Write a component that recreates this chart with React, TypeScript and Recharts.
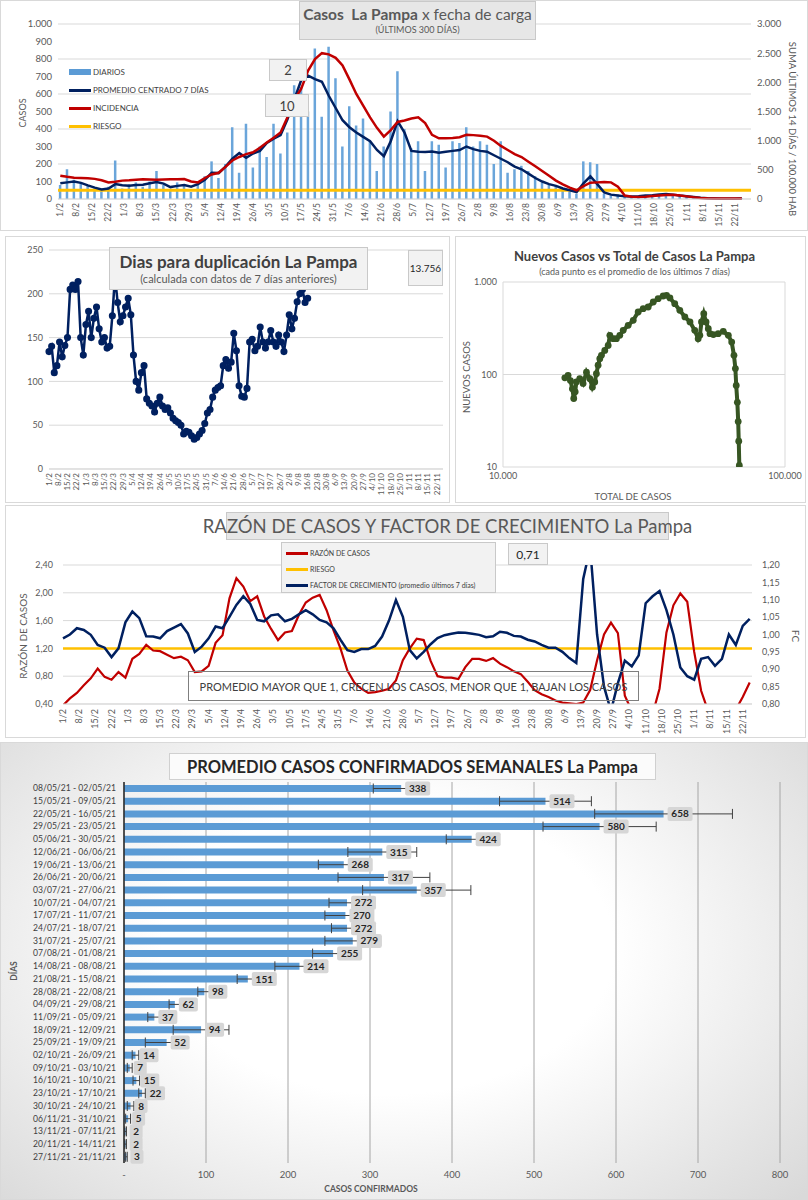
import React from "react";
import {
  ComposedChart,
  LineChart,
  ScatterChart,
  BarChart,
  Bar,
  Line,
  Scatter,
  XAxis,
  YAxis,
  CartesianGrid,
  ReferenceLine,
  ErrorBar,
  LabelList,
} from "recharts";

const FONT = 'Lato, "Open Sans", sans-serif';
const GRID = "#d9d9d9";
const TICK = "#595959";
const NAVY = "#002060";
const RED = "#c00000";
const GOLD = "#ffc000";
const BLUE = "#5b9bd5";
const GREEN = "#375623";

// weekly date ticks, day 0 = 1/2/2021
const WEEK_TICKS = Array.from({ length: 43 }, (_, i) => i * 7);

// ---- casos diarios (one sample every 3 days) ----
const TOP_STEP = 3;
const DIARIOS = [
  80, 170, 110, 90, 75, 60, 45, 70, 220, 60,
  85, 95, 70, 100, 160, 80, 50, 95, 85, 40,
  90, 130, 215, 120, 200, 410, 150, 430, 180, 300,
  240, 430, 260, 380, 650, 640, 500, 860, 470, 870,
  690, 300, 530, 420, 460, 330, 160, 300, 500, 730,
  400, 290, 330, 160, 330, 310, 180, 330, 320, 410,
  300, 330, 310, 200, 330, 150, 170, 190, 160, 130,
  95, 80, 75, 60, 40, 30, 215, 210, 200, 30,
  20, 25, 12, 10, 15, 20, 18, 28, 30, 25,
  18, 15, 10, 6, 4, 3, 2, 2, 2, 3,
];
const PROMEDIO = [
  90, 95, 100, 92, 78, 65, 55, 60, 85, 78,
  76, 80, 82, 90, 97, 88, 68, 75, 80, 70,
  85, 110, 150, 148, 185, 230, 262, 235, 260, 275,
  320, 345, 365, 455, 570, 680, 705, 685, 670, 590,
  520, 450, 410, 380, 355, 330, 280, 245, 330, 445,
  380, 275, 270, 268, 272, 265, 270, 275, 280, 300,
  285, 275, 270, 250, 230, 210, 185, 170, 145, 120,
  100, 85, 75, 60, 50, 40, 90, 130, 85, 38,
  25, 20, 15, 14, 16, 20, 22, 26, 29, 25,
  20, 16, 12, 7, 4, 3, 2, 2, 2, 3,
];
const INCIDENCIA = [
  400, 380, 365, 360, 355, 345, 320, 285, 295, 315,
  320, 330, 340, 335, 330, 335, 340, 340, 343, 300,
  285, 360, 420, 450, 550, 660, 720, 770, 800, 880,
  970, 1050, 1140, 1400, 1700, 1890, 2200, 2400, 2500, 2480,
  2420, 2290, 2050, 1800, 1600, 1400, 1220, 1070, 1180, 1320,
  1345, 1380, 1400, 1300, 1100, 1040, 1040, 1045, 1060, 1100,
  1095, 1085, 1070, 1000, 910, 840, 770, 720, 640, 560,
  480, 400, 315, 250, 195, 150, 220, 280, 285, 290,
  285, 210, 60, 40, 35, 40, 50, 60, 68, 72,
  60, 45, 30, 18, 12, 10, 8, 8, 8, 8,
];
const RIESGO_INC = 150;

// ---- dias para duplicacion (one sample every 2 days) ----
const DUP_STEP = 2;
const DUPLICACION = [
  134, 140, 110, 118, 145, 128, 141, 150, 205, 210,
  205, 214, 150, 130, 165, 180, 150, 172, 185, 160,
  145, 150, 138, 140, 175, 220, 190, 168, 175, 185,
  195, 176, 130, 100, 90, 110, 118, 80, 75, 72,
  65, 75, 82, 72, 68, 70, 64, 58, 55, 53,
  50, 40, 43, 42, 38, 34, 36, 40, 44, 52,
  64, 68, 82, 90, 93, 95, 118, 125, 115, 122,
  155, 135, 95, 83, 82, 92, 145, 148, 135, 140,
  162, 145, 138, 145, 158, 145, 140, 153, 145, 134,
  153, 176, 160, 172, 191, 200, 205, 190, 195,
];

// ---- nuevos casos vs total ----
const TOTAL_CASOS = [
  16570, 17010, 17340, 17620, 17820, 18030, 18200, 18710, 19230, 19770,
  20320, 20750, 21150, 21440, 21740, 22040, 22340, 22960, 23600, 23930,
  24600, 25240, 25950, 26680, 27790, 28960, 30150, 31420, 32720, 34110,
  35490, 36980, 38020, 39080, 40650, 42370, 44150, 46030, 47860, 49210,
  49900, 50570, 51520, 52480, 53460, 54200, 55720, 57940, 60400, 62950,
  64710, 65920, 66690, 67150, 67770, 68240, 68550, 68870,
];
const NUEVOS_CASOS = [
  92, 98, 86, 70, 55, 65, 83, 90, 80, 106,
  90, 73, 83, 102, 126, 148, 161, 182, 206, 265,
  244, 244, 265, 300, 340, 385, 474, 515, 537, 608,
  661, 706, 718, 672, 583, 494, 419, 370, 300, 244,
  265, 370, 455, 370, 313, 276, 270, 276, 293, 265,
  224, 161, 116, 76, 50, 31, 19, 10.4,
];

// ---- razon de casos y factor de crecimiento (every 3 days) ----
const RAZON = [
  0.38, 0.48, 0.56, 0.67, 0.77, 0.91, 0.79, 0.75, 0.86, 0.78,
  1.05, 1.12, 1.25, 1.17, 1.16, 1.11, 1.06, 1.08, 1.03, 0.86,
  0.87, 0.95, 1.28, 1.39, 1.92, 2.21, 2.09, 1.88, 1.95, 1.66,
  1.48, 1.32, 1.43, 1.45, 1.68, 1.86, 1.93, 1.97, 1.75, 1.46,
  1.2, 0.88, 0.71, 0.62, 0.56, 0.57, 0.59, 0.62, 0.74, 1.03,
  1.2, 1.34, 1.32, 1.02, 0.8, 0.78, 0.78, 0.76, 0.93, 1.05,
  1.05, 1.02, 1.06, 0.98, 0.93, 0.87, 0.83, 0.72, 0.6, 0.54,
  0.5, 0.45, 0.42, 0.41, 0.4, 0.42, 0.6, 1.03, 1.4, 1.57,
  1.42, 0.52, 0.3, 0.2, 0.15, 0.25, 0.62, 1.43, 1.82, 1.99,
  1.87, 1.15, 0.59, 0.3, 0.2, 0.15, 0.2, 0.32, 0.5, 0.71,
];
const FACTOR = [
  0.989, 1.0, 1.018, 1.013, 0.999, 0.97, 0.962, 0.935, 0.96, 1.035,
  1.066, 1.047, 0.995, 0.994, 0.989, 1.01, 1.02, 1.03, 1.003, 0.95,
  0.965, 0.989, 1.023, 1.018, 1.051, 1.085, 1.11, 1.088, 1.042, 1.038,
  1.055, 1.058, 1.038, 1.045, 1.058, 1.07, 1.058, 1.042, 1.035, 1.018,
  0.985, 0.955, 0.95, 0.958, 0.958, 0.967, 0.994, 1.04, 1.099, 1.051,
  0.955, 0.931, 0.95, 0.972, 0.99, 0.998, 1.002, 1.006, 1.005, 1.002,
  0.999, 0.992, 0.995, 1.008, 1.005, 0.996, 0.994, 0.985, 0.98, 0.97,
  0.962, 0.962, 0.95, 0.932, 0.918, 1.16, 1.25, 1.0, 0.85, 0.78,
  0.86, 0.925, 0.908, 0.94, 1.09, 1.11, 1.125, 1.07, 1.0, 0.905,
  0.88, 0.87, 0.93, 0.935, 0.91, 0.93, 1.0, 0.97, 1.025, 1.045,
];
const RIESGO_RAZON = 1.2;

// ---- promedio semanal ----
const SEMANAS = [
  "08/05/21 - 02/05/21", "15/05/21 - 09/05/21", "22/05/21 - 16/05/21",
  "29/05/21 - 23/05/21", "05/06/21 - 30/05/21", "12/06/21 - 06/06/21",
  "19/06/21 - 13/06/21", "26/06/21 - 20/06/21", "03/07/21 - 27/06/21",
  "10/07/21 - 04/07/21", "17/07/21 - 11/07/21", "24/07/21 - 18/07/21",
  "31/07/21 - 25/07/21", "07/08/21 - 01/08/21", "14/08/21 - 08/08/21",
  "21/08/21 - 15/08/21", "28/08/21 - 22/08/21", "04/09/21 - 29/08/21",
  "11/09/21 - 05/09/21", "18/09/21 - 12/09/21", "25/09/21 - 19/09/21",
  "02/10/21 - 26/09/21", "09/10/21 - 03/10/21", "16/10/21 - 10/10/21",
  "23/10/21 - 17/10/21", "30/10/21 - 24/10/21", "06/11/21 - 31/10/21",
  "13/11/21 - 07/11/21", "20/11/21 - 14/11/21", "27/11/21 - 21/11/21",
];
const PROM_SEMANAL = [
  338, 514, 658, 580, 424, 315, 268, 317, 357, 272, 270, 272, 279, 255, 214,
  151, 98, 62, 37, 94, 52, 14, 7, 15, 22, 8, 5, 2, 2, 3,
];
const DESVIO = [
  34, 56, 84, 69, 31, 42, 31, 56, 66, 22, 25, 19, 34, 25, 30,
  13, 8, 7, 8, 34, 26, 4, 3, 4, 4, 4, 3, 1, 1, 1,
];

const topData = DIARIOS.map((v, i) => ({
  dia: i * TOP_STEP,
  diarios: v,
  promedio: PROMEDIO[i],
  incidencia: INCIDENCIA[i],
}));
const dupData = DUPLICACION.map((v, i) => ({ dia: i * DUP_STEP, dias: v }));
const scatterData = TOTAL_CASOS.map((t, i) => ({ total: t, nuevos: NUEVOS_CASOS[i] }));
const razonData = RAZON.map((v, i) => ({ dia: i * TOP_STEP, razon: v, fc: FACTOR[i] }));
const semanalData = SEMANAS.map((s, i) => ({
  semana: s,
  promedio: PROM_SEMANAL[i],
  desvio: DESVIO[i],
}));

const fmtDay = (d: number) => {
  const t = new Date(Date.UTC(2021, 1, 1 + d));
  return `${t.getUTCDate()}/${t.getUTCMonth() + 1}`;
};
const fmtNum = (v: number) => String(v).replace(/\B(?=(\d{3})+(?!\d))/g, ".");
const fmtDec = (v: number) => v.toFixed(2).replace(".", ",");

function RotTick(props: any) {
  const { x, y, payload, size } = props;
  return (
    <g transform={`translate(${x},${y})`}>
      <text
        transform="rotate(-90)"
        dy="0.33em"
        textAnchor="end"
        fill={TICK}
        fontSize={size || 8.5}
        fontFamily={FONT}
      >
        {fmtDay(payload.value)}
      </text>
    </g>
  );
}

function WeekTick(props: any) {
  const { x, y, payload } = props;
  return (
    <text x={x} y={y} dy="0.35em" textAnchor="end" fill="#404040" fontSize={8.6} fontFamily={FONT}>
      {payload.value}
    </text>
  );
}

function VLabel({ x, y, text, rot = -90, size = 9.5, bold = false }: any) {
  return (
    <div
      style={{
        position: "absolute",
        left: x,
        top: y,
        transform: `translate(-50%,-50%) rotate(${rot}deg)`,
        whiteSpace: "nowrap",
        fontSize: size,
        fontWeight: bold ? 700 : 400,
        color: TICK,
      }}
    >
      {text}
    </div>
  );
}

function Box({ x, y, w, h, children, style }: any) {
  return (
    <div
      style={{
        position: "absolute",
        left: x,
        top: y,
        width: w,
        height: h,
        boxSizing: "border-box",
        background: "#f2f2f2",
        border: "1px solid #c9c9c9",
        display: "flex",
        flexDirection: "column",
        alignItems: "center",
        justifyContent: "center",
        whiteSpace: "nowrap",
        color: "#404040",
        ...style,
      }}
    >
      {children}
    </div>
  );
}

const TOP_LEGEND = [
  { label: "DIARIOS", color: BLUE, bar: true },
  { label: "PROMEDIO CENTRADO 7 DÍAS", color: NAVY },
  { label: "INCIDENCIA", color: RED },
  { label: "RIESGO", color: GOLD },
];
const RAZON_LEGEND = [
  { label: "RAZÓN DE CASOS", color: RED },
  { label: "RIESGO", color: GOLD },
  { label: "FACTOR DE CRECIMIENTO (promedio últimos 7 días)", color: NAVY },
];

function LegendRow({ item, gap, size }: any) {
  return (
    <div style={{ display: "flex", alignItems: "center", height: gap }}>
      <div
        style={{
          width: 22,
          height: item.bar ? 6 : 3,
          background: item.color,
          marginRight: 2,
        }}
      />
      <span style={{ fontSize: size, color: "#404040", whiteSpace: "nowrap" }}>{item.label}</span>
    </div>
  );
}

function BarLabel(props: any) {
  const { x, y, width, height, value } = props;
  const tx = Number(x) + Number(width) + 4;
  const w = String(value).length * 6 + 7;
  const cy = Number(y) + Number(height) / 2;
  return (
    <g>
      <rect x={tx} y={cy - 7} width={w} height={14} rx={2} fill="#d6d6d6" />
      <text
        x={tx + w / 2}
        y={cy}
        dy="0.35em"
        textAnchor="middle"
        fontSize={10}
        fontWeight={700}
        fill="#262626"
        fontFamily={FONT}
      >
        {value}
      </text>
    </g>
  );
}

const panel = (x: number, y: number, w: number, h: number, extra: any = {}) => ({
  position: "absolute" as const,
  left: x,
  top: y,
  width: w,
  height: h,
  boxSizing: "border-box" as const,
  border: "1px solid #d9d9d9",
  background: "#ffffff",
  overflow: "hidden" as const,
  ...extra,
});

export default function App() {
  return (
    <div style={{ position: "relative", width: 808, height: 1200, fontFamily: FONT, background: "#fff" }}>
      <style>{"body{margin:0}"}</style>

      {/* ---------- casos diarios ---------- */}
      <div style={panel(0, 0, 808, 231)}>
        <div style={{ position: "absolute", left: -1, top: -1 }}>
          <ComposedChart width={808} height={231} data={topData} margin={{ top: 24, right: 0, bottom: 0, left: 0 }}>
            <CartesianGrid yAxisId="left" vertical={false} stroke={GRID} />
            <XAxis
              dataKey="dia"
              type="number"
              domain={[-1, 301]}
              ticks={WEEK_TICKS}
              interval={0}
              tickLine={false}
              axisLine={{ stroke: GRID }}
              height={32}
              tickSize={3}
              tickMargin={1}
              tick={<RotTick size={8.5} />}
            />
            <YAxis
              yAxisId="left"
              domain={[0, 1000]}
              ticks={[0, 100, 200, 300, 400, 500, 600, 700, 800, 900, 1000]}
              axisLine={false}
              tickLine={false}
              width={58}
              tickSize={4}
              tickFormatter={fmtNum}
              tick={{ fontSize: 9.5, fill: TICK }}
            />
            <YAxis
              yAxisId="right"
              orientation="right"
              domain={[0, 3000]}
              ticks={[0, 500, 1000, 1500, 2000, 2500, 3000]}
              axisLine={false}
              tickLine={false}
              width={57}
              tickSize={4}
              tickFormatter={fmtNum}
              tick={{ fontSize: 9.5, fill: TICK }}
            />
            <Bar yAxisId="left" dataKey="diarios" fill="#6aa5da" barSize={2.5} isAnimationActive={false} />
            <ReferenceLine yAxisId="right" y={RIESGO_INC} stroke={GOLD} strokeWidth={3} />
            <Line yAxisId="left" dataKey="promedio" stroke={NAVY} strokeWidth={2.5} dot={false} isAnimationActive={false} />
            <Line yAxisId="right" dataKey="incidencia" stroke={RED} strokeWidth={2.5} dot={false} isAnimationActive={false} />
          </ComposedChart>
        </div>
        <Box x={298} y={0} w={237} h={39} style={{ background: "#e7e7e7", color: "#595959" }}>
          <div style={{ fontSize: 15.5, lineHeight: "19px" }}>
            <b>Casos&nbsp; La Pampa</b> x fecha de carga
          </div>
          <div style={{ fontSize: 9, lineHeight: "12px" }}>(ÚLTIMOS 300 DÍAS)</div>
        </Box>
        <div style={{ position: "absolute", left: 68, top: 62 }}>
          {TOP_LEGEND.map((it) => (
            <LegendRow key={it.label} item={it} gap={18} size={8} />
          ))}
        </div>
        <Box x={268} y={58} w={38} h={22} style={{ fontSize: 13 }}>2</Box>
        <Box x={264} y={93} w={44} h={23} style={{ fontSize: 13 }}>10</Box>
        <VLabel x={21} y={112} text="CASOS" size={9} />
        <VLabel x={791} y={128} rot={90} text="SUMA ÚLTIMOS 14 DÍAS / 100.000 HAB" size={9.5} />
      </div>

      {/* ---------- dias para duplicacion ---------- */}
      <div style={panel(5, 236, 445, 267)}>
        <div style={{ position: "absolute", left: -1, top: -1 }}>
          <LineChart width={445} height={267} data={dupData} margin={{ top: 14, right: 7, bottom: 0, left: 0 }}>
            <CartesianGrid vertical={false} stroke={GRID} />
            <XAxis
              dataKey="dia"
              type="number"
              domain={[0, 298.5]}
              ticks={WEEK_TICKS}
              interval={0}
              tickLine={false}
              axisLine={{ stroke: GRID }}
              height={34}
              tickSize={3}
              tickMargin={1}
              tick={<RotTick size={8} />}
            />
            <YAxis
              domain={[0, 250]}
              ticks={[0, 50, 100, 150, 200, 250]}
              axisLine={false}
              tickLine={false}
              width={44}
              tickSize={4}
              tick={{ fontSize: 9, fill: TICK }}
            />
            <Line
              dataKey="dias"
              stroke={NAVY}
              strokeWidth={2.5}
              dot={{ r: 2.3, fill: NAVY, stroke: NAVY }}
              isAnimationActive={false}
            />
          </LineChart>
        </div>
        <Box x={103} y={10} w={259} h={43}>
          <div style={{ fontSize: 17, fontWeight: 700, lineHeight: "21px" }}>Dias para duplicación La Pampa</div>
          <div style={{ fontSize: 11, lineHeight: "14px", color: "#595959" }}>
            (calculada con datos de 7 días anteriores)
          </div>
        </Box>
        <Box x={402} y={13} w={35} h={36} style={{ fontSize: 10, color: "#262626" }}>13.756</Box>
      </div>

      {/* ---------- nuevos vs total ---------- */}
      <div style={panel(455, 236, 351, 267)}>
        <div style={{ position: "absolute", left: -1, top: -1 }}>
          <ScatterChart width={351} height={267} margin={{ top: 46, right: 21, bottom: 0, left: 0 }}>
            <CartesianGrid stroke={GRID} />
            <XAxis
              dataKey="total"
              type="number"
              scale="log"
              domain={[10000, 100000]}
              ticks={[10000, 100000]}
              allowDataOverflow
              axisLine={false}
              tickLine={false}
              height={36}
              tickSize={4}
              tickFormatter={fmtNum}
              tick={{ fontSize: 9, fill: TICK }}
            />
            <YAxis
              dataKey="nuevos"
              type="number"
              scale="log"
              domain={[10, 1000]}
              ticks={[10, 100, 1000]}
              allowDataOverflow
              axisLine={false}
              tickLine={false}
              width={48}
              tickSize={4}
              tickFormatter={fmtNum}
              tick={{ fontSize: 9, fill: TICK }}
            />
            <Scatter
              data={scatterData}
              fill={GREEN}
              line={{ stroke: GREEN, strokeWidth: 4 }}
              shape={(p: any) => <circle cx={p.cx} cy={p.cy} r={3.4} fill={GREEN} />}
              isAnimationActive={false}
            />
          </ScatterChart>
        </div>
        <div
          style={{
            position: "absolute",
            left: 0,
            width: 351,
            top: 11,
            textAlign: "center",
            paddingLeft: 6,
            boxSizing: "border-box",
            fontSize: 13,
            fontWeight: 700,
            color: "#404040",
            whiteSpace: "nowrap",
          }}
        >
          Nuevos Casos vs Total de Casos La Pampa
        </div>
        <div
          style={{
            position: "absolute",
            left: 0,
            width: 351,
            top: 29,
            textAlign: "center",
            paddingLeft: 6,
            boxSizing: "border-box",
            fontSize: 9,
            color: TICK,
            whiteSpace: "nowrap",
          }}
        >
          (cada punto es el promedio de los últimos 7 días)
        </div>
        <VLabel x={10} y={140} text="NUEVOS  CASOS" size={9.5} />
        <VLabel x={177} y={259} rot={0} text="TOTAL DE CASOS" size={9.5} />
      </div>

      {/* ---------- razon de casos ---------- */}
      <div style={panel(5, 505, 801, 233)}>
        <div style={{ position: "absolute", left: -6, top: -1 }}>
          <ComposedChart width={808} height={235} data={razonData} margin={{ top: 60, right: 0, bottom: 0, left: 0 }}>
            <CartesianGrid yAxisId="left" vertical={false} stroke={GRID} />
            <XAxis
              dataKey="dia"
              type="number"
              domain={[0, 298]}
              ticks={WEEK_TICKS}
              interval={0}
              tickLine={false}
              axisLine={{ stroke: GRID }}
              height={36}
              tickSize={3}
              tickMargin={2}
              tick={<RotTick size={9} />}
            />
            <YAxis
              yAxisId="left"
              domain={[0.4, 2.4]}
              ticks={[0.4, 0.6, 0.8, 1.0, 1.2, 1.4, 1.6, 1.8, 2.0, 2.2, 2.4]}
              allowDataOverflow
              axisLine={false}
              tickLine={false}
              width={63}
              tickSize={8}
              tickFormatter={fmtDec}
              tick={{ fontSize: 9, fill: TICK }}
            />
            <YAxis
              yAxisId="right"
              orientation="right"
              domain={[0.8, 1.2]}
              ticks={[0.8, 0.85, 0.9, 0.95, 1.0, 1.05, 1.1, 1.15, 1.2]}
              allowDataOverflow
              axisLine={false}
              tickLine={false}
              width={56}
              tickSize={8}
              tickFormatter={fmtDec}
              tick={{ fontSize: 9, fill: TICK }}
            />
            <ReferenceLine yAxisId="left" y={RIESGO_RAZON} stroke={GOLD} strokeWidth={2.5} />
            <Line yAxisId="left" dataKey="razon" stroke={RED} strokeWidth={2.2} dot={false} isAnimationActive={false} />
            <Line yAxisId="right" dataKey="fc" stroke={NAVY} strokeWidth={2.5} dot={false} isAnimationActive={false} />
          </ComposedChart>
        </div>
        <Box x={220} y={6} w={443} h={28} style={{ background: "#e7e7e7", color: "#595959", fontSize: 18.5 }}>
          RAZÓN DE CASOS Y FACTOR DE CRECIMIENTO La Pampa
        </Box>
        <div
          style={{
            position: "absolute",
            left: 275,
            top: 36,
            width: 215,
            height: 51,
            boxSizing: "border-box",
            background: "#f2f2f2",
            border: "1px solid #c9c9c9",
            padding: "2px 0 0 4px",
          }}
        >
          {RAZON_LEGEND.map((it) => (
            <LegendRow key={it.label} item={it} gap={16} size={7} />
          ))}
        </div>
        <Box x={502} y={37} w={40} h={22} style={{ fontSize: 12, color: "#262626" }}>0,71</Box>
        <div
          style={{
            position: "absolute",
            left: 182,
            top: 165,
            width: 451,
            height: 30,
            boxSizing: "border-box",
            border: "1px solid #7f7f7f",
            display: "flex",
            alignItems: "center",
            justifyContent: "center",
            fontSize: 11,
            color: "#404040",
            whiteSpace: "nowrap",
          }}
        >
          PROMEDIO MAYOR QUE 1, CRECEN LOS CASOS, MENOR QUE 1, BAJAN LOS CASOS
        </div>
        <VLabel x={17} y={130} text="RAZÓN DE CASOS" size={10} />
        <VLabel x={790} y={130} rot={90} text="FC" size={10} />
      </div>

      {/* ---------- promedio semanal ---------- */}
      <div
        style={panel(0, 742, 808, 458, {
          background: "radial-gradient(ellipse 70% 80% at 48% 45%, #ffffff 40%, #d9d9d9 100%)",
        })}
      >
        <div style={{ position: "absolute", left: -1, top: -1 }}>
          <BarChart
            width={808}
            height={458}
            layout="vertical"
            data={semanalData}
            margin={{ top: 40, right: 28, bottom: 0, left: 0 }}
          >
            <CartesianGrid horizontal={false} stroke="#a6a6a6" />
            <XAxis
              type="number"
              domain={[0, 800]}
              ticks={[0, 100, 200, 300, 400, 500, 600, 700, 800]}
              axisLine={false}
              tickLine={false}
              height={37}
              tickSize={6}
              tickFormatter={(v: number) => (v === 0 ? "-" : String(v))}
              tick={{ fontSize: 9.5, fill: TICK }}
            />
            <YAxis
              type="category"
              dataKey="semana"
              width={124}
              interval={0}
              axisLine={{ stroke: "#262626", strokeWidth: 1.5 }}
              tickLine={false}
              tickSize={6}
              tickMargin={2}
              tick={<WeekTick />}
            />
            <Bar dataKey="promedio" fill={BLUE} barSize={7} isAnimationActive={false}>
              <ErrorBar dataKey="desvio" direction="x" width={5} stroke="#404040" strokeWidth={1} />
              <LabelList dataKey="promedio" content={BarLabel} />
            </Bar>
          </BarChart>
        </div>
        <div
          style={{
            position: "absolute",
            left: 168,
            top: 10,
            width: 487,
            height: 27,
            boxSizing: "border-box",
            background: "#fbfbfb",
            border: "1px solid #d0d0d0",
            display: "flex",
            alignItems: "center",
            justifyContent: "center",
            fontSize: 16.5,
            fontWeight: 700,
            color: "#262626",
            whiteSpace: "nowrap",
          }}
        >
          PROMEDIO CASOS CONFIRMADOS SEMANALES La Pampa
        </div>
        <VLabel x={13} y={228} text="DÍAS" size={8.5} bold />
        <VLabel x={370} y={446} rot={0} text="CASOS CONFIRMADOS" size={8.5} bold />
      </div>
    </div>
  );
}
